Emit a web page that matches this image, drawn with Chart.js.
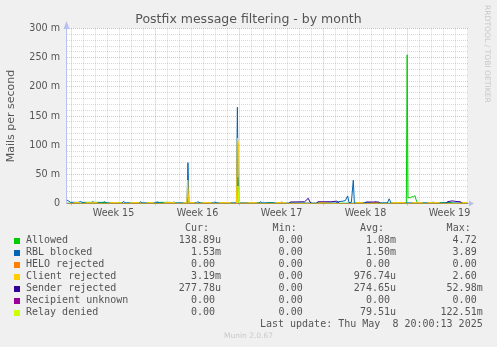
<!DOCTYPE html>
<html>
<head>
<meta charset="utf-8">
<title>Postfix message filtering - by month</title>
<script src="https://cdn.jsdelivr.net/npm/chart.js@4.4.1/dist/chart.umd.min.js"></script>
<style>
  html, body { margin: 0; padding: 0; background: #f0f0f0; }
  #wrap { position: relative; width: 497px; height: 347px; overflow: hidden; }
  #chart { position: absolute; left: 0; top: 0; }
  .mono { position: absolute; font-family: 'DejaVu Sans Mono', monospace; font-size: 10px; line-height: 12px; color: #555; white-space: pre; }
  .box { position: absolute; width: 6px; height: 6px; }
  #brand { position: absolute; left: 483px; top: 5px; writing-mode: vertical-rl; font-family: 'DejaVu Sans', sans-serif; font-size: 7.6px; line-height: 8px; color: #c8c8c8; white-space: nowrap; }
  #munin { position: absolute; left: 0; width: 497px; top: 331px; text-align: center; font-family: 'DejaVu Sans', sans-serif; font-size: 7.5px; line-height: 10px; color: #c8c8c8; }
</style>
</head>
<body>
<div id="wrap">
  <canvas id="chart" width="497" height="347"></canvas>
  <div id="legend"></div>
  <div id="brand">RRDTOOL / TOBI OETIKER</div>
  <div id="munin">Munin 2.0.67</div>
</div>
<script>
// Postfix filtering, monthly view. x = days from left edge of the graph, y = milli-mails per second

const seriesNames = ['Allowed', 'RBL blocked', 'HELO rejected', 'Client rejected', 'Sender rejected', 'Recipient unknown', 'Relay denied'];
const seriesColors = ['#00cc00', '#0066b3', '#ff8000', '#ffcc00', '#330099', '#990099', '#ccff00'];

const weekLabels = ['Week 15', 'Week 16', 'Week 17', 'Week 18', 'Week 19'];
const weekStarts = [0.375, 7.375, 14.375, 21.375, 28.375];
const xMax = 33.42;

const yLabelValues = [0, 50, 100, 150, 200, 250, 300];
const yLabels = ['0', '50 m', '100 m', '150 m', '200 m', '250 m', '300 m'];

const allowed = [[0,0.5],[1.2,0.5],[1.4,2],[3.2,2],[3.4,0.5],[7.3,0.5],[7.5,2],[8.6,2],[8.8,0.5],[10.0,0.5],[10.08,10],[10.16,0.5],
  [14.15,0.5],[14.25,45],[14.35,0.5],[16.6,0.5],[16.7,1.5],[17.2,1.5],[17.3,0.5],[28.28,0.5],[28.35,255],[28.42,10],[28.64,10],
  [28.75,12],[28.85,11],[29.0,13.4],[29.1,6],[29.22,0.5],[31.0,0.5],[31.2,1.5],[32.0,1.5],[32.2,0.5],[33.42,0.5]];

const rblBlocked = [[0,6],[0.3,2],[1.0,2],[1.1,3.5],[1.4,1],[2.0,1],[2.1,3],[2.4,1],[3.0,1],[3.1,3],[3.3,1],[4.6,1],[4.7,3.5],[4.9,1],
  [6.0,1],[6.1,3],[6.3,1],[7.4,1],[7.5,3],[7.7,1],[8.8,1],[8.9,2.5],[9.1,1],[10.0,1],[10.08,70],[10.16,1],[10.8,1],[10.9,3],[11.1,1],
  [12.2,1],[12.3,2.5],[12.5,1],[14.12,1],[14.2,165],[14.28,1],[16.0,1],[16.1,3],[16.3,1],[17.8,1],[17.9,2.5],[18.1,0.5],[22.4,0.5],
  [22.6,3],[23.0,4],[23.2,5],[23.39,13],[23.5,1.5],[23.7,2],[23.86,40],[23.95,1],[25.6,1],[25.7,3],[25.9,1],[26.7,1],[26.85,8],
  [27.0,1],[30.4,1],[30.5,2.5],[30.7,1],[33.42,0.5]];

const heloRejected = [[0,0],[33.42,0]];

const clientRejected = [[0,0],[0.5,0],[0.6,1.5],[1.0,1.5],[1.1,0],[1.5,0],[1.6,1.5],[2.5,1.5],[2.6,0],[3.5,0],[3.6,1.5],[4.5,1.5],
  [4.6,0],[5.2,0],[5.3,1.5],[6.0,1.5],[6.1,0],[6.6,0],[6.7,1.5],[7.2,1.5],[7.3,0],[8.0,0],[8.1,1.5],[9.0,1.5],[9.1,0],[9.6,0],
  [9.7,1.5],[10.0,1.5],[10.06,40],[10.14,1.5],[10.6,1.5],[10.7,0],[11.2,0],[11.3,1.5],[12.0,1.5],[12.1,0],[12.6,0],[12.7,1.5],
  [13.6,1.5],[13.7,0],[14.12,0],[14.2,112],[14.3,100],[14.38,0.5],[15.0,0.5],[15.1,1.5],[15.8,1.5],[15.9,0],[17.3,0],[17.4,1.5],
  [18.2,1.5],[18.3,0],[20.9,0],[21.0,1.5],[21.6,1.5],[21.7,0],[24.0,0],[24.1,1.5],[24.6,1.5],[24.7,0],[25.2,0],[25.3,1.5],[26.0,1.5],
  [26.1,0],[27.0,0],[27.1,1.5],[28.2,1.5],[28.3,0],[28.7,0],[28.8,1.5],[29.6,1.5],[29.7,0],[30.0,0],[30.1,1.5],[31.0,1.5],[31.1,0],
  [32.8,0],[32.9,1.5],[33.42,1.5]];

const senderRejected = [[0,0],[18.5,0],[18.6,2.5],[19.8,3],[20.11,9],[20.25,2.5],[20.4,0],[20.8,0],[20.9,3],[22.0,3],[22.5,4],[22.7,0],
  [24.8,0],[24.9,2.5],[26.0,2.5],[26.1,0],[31.6,0],[31.7,3],[32.1,4.5],[32.4,3.5],[32.8,3],[32.9,0],[33.42,0]];

const recipientUnknown = [[0,0],[33.42,0]];

const relayDenied = [[0,0],[14.17,0],[14.25,30],[14.33,0],[33.42,0]];

const seriesData = [allowed, rblBlocked, heloRejected, clientRejected, senderRejected, recipientUnknown, relayDenied];

// legend table values
const curValues = ['138.89u', '1.53m', '0.00', '3.19m', '277.78u', '0.00', '0.00'];
const minValues = ['0.00', '0.00', '0.00', '0.00', '0.00', '0.00', '0.00'];
const avgValues = ['1.08m', '1.50m', '0.00', '976.74u', '274.65u', '0.00', '79.51u'];
const maxValues = ['4.72', '3.89', '0.00', '2.60', '52.98m', '0.00', '122.51m'];
const lastUpdate = 'Last update: Thu May  8 20:00:13 2025';

const fontFamily = "'DejaVu Sans', sans-serif";
const textColor = '#555';
const majorGrid = 'rgba(230, 110, 110, 0.5)';
const minorGrid = 'rgba(170, 170, 170, 0.45)';
const axisColor = '#b8c0f0';

const near = (a, b) => Math.abs(a - b) < 0.01;

// x grid: every half day, only whole days get a line, week centres get a label
const xTicks = [];
for (let d = weekStarts[0]; d <= xMax; d += 0.5) xTicks.push(+d.toFixed(3));
const yTicks = [];
for (let v = 0; v <= 300; v += 10) yTicks.push(v);

const isWeekStart = v => weekStarts.some(s => near(s, v));
const isDay = v => near((v - weekStarts[0]) % 1, 0) || near((v - weekStarts[0]) % 1, 1);

const frame = {
  id: 'frame',
  beforeDraw(chart) {
    const { ctx, chartArea: a } = chart;
    ctx.save();
    ctx.fillStyle = '#f0f0f0';
    ctx.fillRect(0, 0, chart.width, chart.height);
    ctx.fillStyle = '#ffffff';
    ctx.fillRect(a.left, a.top, a.right - a.left, a.bottom - a.top);
    ctx.restore();
  },
  beforeDatasetsDraw(chart) {
    const { ctx, chartArea: a } = chart;
    ctx.save();
    ctx.strokeStyle = axisColor;
    ctx.lineWidth = 1;
    ctx.beginPath();
    ctx.moveTo(a.left - 0.5, 23);
    ctx.lineTo(a.left - 0.5, a.bottom + 0.5);
    ctx.moveTo(a.left - 1, a.bottom);
    ctx.lineTo(a.right + 2, a.bottom);
    ctx.stroke();
    ctx.restore();
  },
  afterDraw(chart) {
    const { ctx, chartArea: a } = chart;
    ctx.save();
    ctx.fillStyle = axisColor;
    ctx.beginPath();
    ctx.moveTo(a.left - 3.5, 29);
    ctx.lineTo(a.left + 2.5, 29);
    ctx.lineTo(a.left - 0.5, 21);
    ctx.closePath();
    ctx.fill();
    ctx.beginPath();
    ctx.moveTo(a.right + 1, a.bottom - 3);
    ctx.lineTo(a.right + 1, a.bottom + 3);
    ctx.lineTo(a.right + 6, a.bottom);
    ctx.closePath();
    ctx.fill();
    ctx.restore();
  }
};

Chart.defaults.font.family = fontFamily;

new Chart(document.getElementById('chart'), {
  type: 'line',
  data: {
    datasets: seriesNames.map((name, i) => ({
      label: name,
      data: seriesData[i].map(p => ({ x: p[0], y: p[1] })),
      borderColor: seriesColors[i],
      backgroundColor: seriesColors[i],
      borderWidth: 1,
      borderJoinStyle: 'bevel',
      pointRadius: 0,
      tension: 0,
      fill: false,
      order: seriesNames.length - i
    }))
  },
  options: {
    responsive: false,
    animation: false,
    devicePixelRatio: 1,
    events: [],
    layout: { padding: 0 },
    plugins: {
      legend: { display: false },
      tooltip: { enabled: false },
      title: {
        display: true,
        text: 'Postfix message filtering - by month',
        color: textColor,
        font: { family: fontFamily, size: 12.5, weight: 'normal' },
        padding: { top: 12, bottom: 1.5 }
      }
    },
    scales: {
      x: {
        type: 'linear',
        min: 0,
        max: xMax,
        bounds: 'data',
        afterBuildTicks: axis => { axis.ticks = xTicks.map(v => ({ value: v })); },
        afterFit: scale => { scale.height = 143.5; },
        ticks: {
          autoSkip: false,
          maxRotation: 0,
          minRotation: 0,
          padding: 2,
          color: textColor,
          font: { size: 9.6 },
          callback: value => {
            const i = weekStarts.findIndex(s => near(s + 3.5, value));
            return i >= 0 ? weekLabels[i] : '';
          }
        },
        grid: {
          color: ctx => isWeekStart(ctx.tick.value) ? majorGrid : (isDay(ctx.tick.value) ? minorGrid : 'rgba(0,0,0,0)'),
          tickColor: ctx => isWeekStart(ctx.tick.value) ? majorGrid : 'rgba(0,0,0,0)',
          tickLength: 2,
          lineWidth: 1
        },
        border: { display: false, dash: [1, 1] }
      },
      y: {
        type: 'linear',
        min: 0,
        max: 300,
        afterBuildTicks: axis => { axis.ticks = yTicks.map(v => ({ value: v })); },
        afterFit: scale => { scale.width = 67; },
        ticks: {
          autoSkip: false,
          padding: 7,
          color: textColor,
          font: { size: 9.6 },
          callback: value => {
            const i = yLabelValues.indexOf(value);
            return i >= 0 ? yLabels[i] : '';
          }
        },
        grid: {
          color: ctx => ctx.tick.value % 50 === 0 ? majorGrid : minorGrid,
          drawTicks: false,
          lineWidth: 1
        },
        border: { display: false, dash: [1, 1] },
        title: {
          display: true,
          text: 'Mails per second',
          color: textColor,
          font: { size: 11 },
          padding: { top: 5, bottom: 0 }
        }
      },
      // empty right-hand axis that only reserves the margin beside the graph
      yRight: {
        type: 'linear',
        position: 'right',
        afterFit: scale => { scale.width = 29; },
        ticks: { display: false },
        grid: { display: false },
        border: { display: false }
      }
    }
  },
  plugins: [frame]
});

// legend table under the graph
const legend = document.getElementById('legend');
const colRights = [221, 308.7, 396, 482.7];
const colHeads = ['Cur:', 'Min:', 'Avg:', 'Max:'];
const colValues = [curValues, minValues, avgValues, maxValues];

function addText(text, top, opts) {
  const el = document.createElement('div');
  el.className = 'mono';
  el.textContent = text;
  el.style.top = top + 'px';
  if (opts.left !== undefined) el.style.left = opts.left + 'px';
  if (opts.right !== undefined) el.style.right = (497 - opts.right) + 'px';
  legend.appendChild(el);
}

colHeads.forEach((h, c) => addText(h, 221.5, { right: colRights[c] - 12 }));

seriesNames.forEach((name, i) => {
  const top = 233.5 + 12 * i;
  const box = document.createElement('div');
  box.className = 'box';
  box.style.left = '14px';
  box.style.top = (top + 4) + 'px';
  box.style.background = seriesColors[i];
  legend.appendChild(box);
  addText(name, top, { left: 26 });
  colValues.forEach((vals, c) => {
    const v = vals[i];
    addText(/\d$/.test(v) ? v + ' ' : v, top, { right: colRights[c] });
  });
});

addText(lastUpdate, 317.5, { right: 482.7 });
</script>
</body>
</html>
